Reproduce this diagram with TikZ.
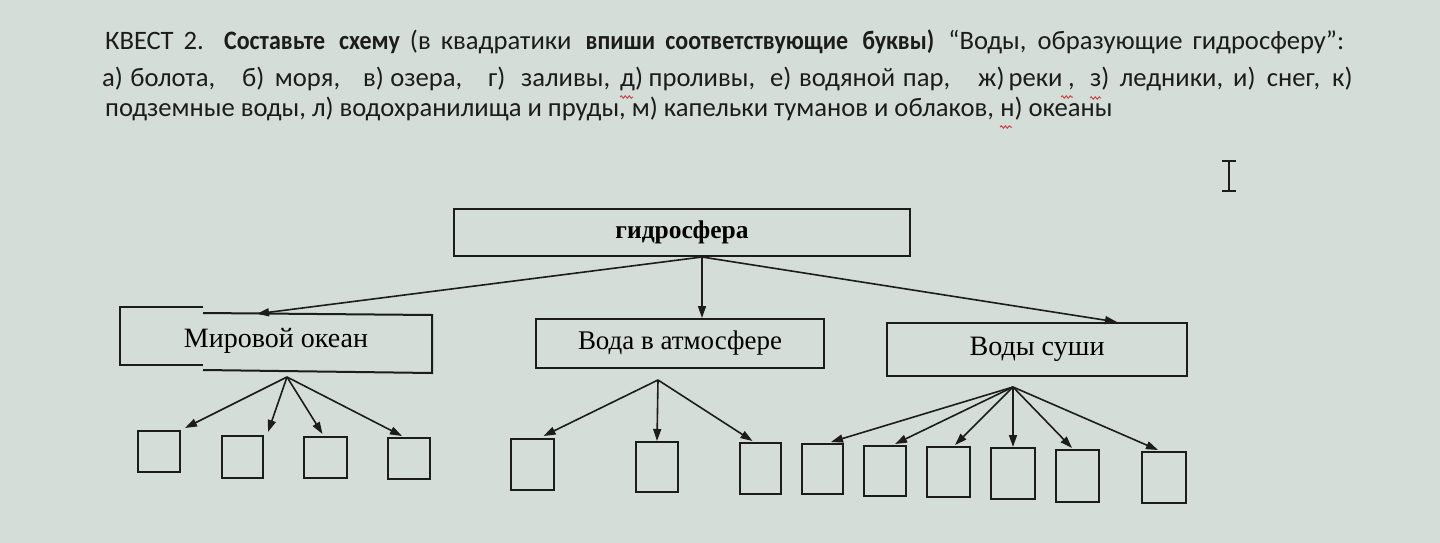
\documentclass[tikz,border=0pt]{standalone}
\usepackage{fontspec}
\usepackage{graphicx}
\setmainfont{Liberation Serif}
\newfontfamily\calib{Carlito}
\usetikzlibrary{arrows.meta,calc,decorations.pathmorphing}
\definecolor{bg}{HTML}{D5DDD8}
\definecolor{ink}{HTML}{1C1C1C}
\definecolor{squig}{HTML}{C44848}
\newlength\qlinew
\newcommand\qlinethree{подземные воды, л) водохранилища и пруды, м) капельки туманов и облаков, н) океаны}
\AtBeginDocument{%
  \settowidth\qlinew{\calib\fontsize{10pt}{12pt}\selectfont\qlinethree}%
  \pgfmathsetmacro\qfs{10*1007/\qlinew}%
  \global\let\qfs\qfs}
\newcommand\qfont{\calib\fontsize{\qfs pt}{\qfs pt}\selectfont}
\newcommand\qbold[1]{\scalebox{0.9}[1]{\bfseries #1}}
\newcommand\qitem[2]{\makebox[#1pt][s]{#2}}
\tikzset{
  frame/.style={draw=ink, line width=2pt, inner sep=0pt},
  leaf/.style={draw=ink, line width=2pt, inner sep=0pt},
  link/.style={draw=ink, line width=1.6pt, -{Triangle[length=12pt,width=8pt]}},
  qtext/.style={anchor=base west, inner sep=0pt, text=ink, font=\qfont},
  squiggle/.style={draw=squig, line width=1pt, decorate, decoration={snake, amplitude=1.2pt, segment length=4pt}}
}
\begin{document}
\begin{tikzpicture}[x=1pt,y=-1pt]
\fill[bg] (0,0) rectangle (1440,543);
\useasboundingbox (0,0) rectangle (1440,543);
% task text, line 1 (justified)
\node[qtext] (l1) at (105,50) {\makebox[1239pt][s]{КВЕСТ 2. \qbold{Составьте}\hspace{4pt} \qbold{схему} (в квадратики\hspace{4pt} \qbold{впиши} \qbold{соответствующие}\hspace{4pt} \qbold{буквы)}\hspace{4pt} “Воды, образующие гидросферу”:}};
% line 2 (justified, every space stretched)
\node[qtext] (a) at (102,86) {\qitem{113}{а) болота,}};
\node[qtext] (b) at (242,86) {\qitem{98}{б) моря,}};
\node[qtext] (c) at (363,86) {\qitem{99}{в) озера,}};
\node[qtext] (d) at (488,86) {\qitem{122}{г) заливы,}};
\node[qtext] (e) at (620,86) {\qitem{135}{д) проливы,}};
\node[qtext] (f) at (770,86) {\qitem{180}{е) водяной пар,}};
\node[qtext] (g) at (978,86) {\qitem{79}{ж) реки}};
\node[qtext] (g2) at (1068,86) {,};
\node[qtext] (h) at (1090,86) {\qitem{133}{з) ледники,}};
\node[qtext] (i) at (1233,86) {\qitem{87}{и) снег,}};
\node[qtext] (k) at (1332,86) {к)};
% line 3
\node[qtext] (l3) at (105,116) {подземные воды, л) водохранилища и пруды, м) капельки туманов и облаков,};
\node[qtext] (l3b) at (l3.base east) {\ н) океаны};
% spell-check marks
\draw[squiggle] ($(e.base west)+(0,11)$) -- +(13,0);
\draw[squiggle] ($(g2.base west)+(-7,11)$) -- +(12,0);
\draw[squiggle] ($(h.base west)+(0,12)$) -- +(11,0);
\draw[squiggle] ($(l3b.base west)+(6,11)$) -- +(12,0);
% cursor
\draw[ink, line width=2.4pt] (1222,161) -- (1236,161) (1229,161) -- (1229,191) (1222,191) -- (1236,191);
% main boxes
\node[frame, minimum width=456pt, minimum height=47pt] (hydro) at (682,232.5) {\resizebox{133pt}{!}{\bfseries гидросфера}};
\node[inner sep=0pt, minimum width=312pt, minimum height=66pt] (ocean) at (276,341) {\resizebox{184pt}{!}{Мировой океан}};
\draw[ink, line width=2pt] (203,313) -- (432,315) -- (432,373) -- (203,370);
\draw[ink, line width=2pt] (203,307) -- (120,307) -- (120,365) -- (203,365);
\node[frame, minimum width=288pt, minimum height=49pt] (atm) at (680,343.5) {\resizebox{204pt}{!}{Вода в атмосфере}};
\node[frame, minimum width=300pt, minimum height=53pt] (land) at (1037,349.5) {\resizebox{135pt}{!}{Воды суши}};
% leaves
\node[leaf, minimum width=42pt, minimum height=41pt] (b1) at (159,451.5) {};
\node[leaf, minimum width=41pt, minimum height=42pt] (b2) at (242.5,457) {};
\node[leaf, minimum width=43pt, minimum height=41pt] (b3) at (325.5,457.5) {};
\node[leaf, minimum width=42pt, minimum height=41pt] (b4) at (409,458.5) {};
\node[leaf, minimum width=43pt, minimum height=51pt] (b5) at (532.5,464.5) {};
\node[leaf, minimum width=42pt, minimum height=50pt] (b6) at (657,467) {};
\node[leaf, minimum width=41pt, minimum height=51pt] (b7) at (760.5,468.5) {};
\node[leaf, minimum width=41pt, minimum height=50pt] (b8) at (822.5,469) {};
\node[leaf, minimum width=42pt, minimum height=50pt] (b9) at (885,471) {};
\node[leaf, minimum width=43pt, minimum height=50pt] (b10) at (948.5,472) {};
\node[leaf, minimum width=44pt, minimum height=51pt] (b11) at (1013,473.5) {};
\node[leaf, minimum width=43pt, minimum height=52pt] (b12) at (1077.5,476) {};
\node[leaf, minimum width=44pt, minimum height=51pt] (b13) at (1164,477.5) {};
% branch points
\coordinate (hs) at (702,257);
\coordinate (os) at (287,377);
\coordinate (as) at (658,380);
\coordinate (ls) at (1013,387);
% connectors
\draw[link] (hs) -- ($(ocean.north)+(-19,6)$);
\draw[link] (hs) -- (hs |- atm.north);
\draw[link] (hs) -- ($(land.north)+(80,0)$);
\draw[link] (os) -- ($(b1.north east)+(4,-2)$);
\draw[link] (os) -- ($(b2.north east)+(4,-3)$);
\draw[link] (os) -- ($(b3.north)+(-3,-2)$);
\draw[link] (os) -- ($(b4.north)+(-7,-1)$);
\draw[link] (as) -- ($(b5.north)+(11,-2)$);
\draw[link] (as) -- (b6.north);
\draw[link] (as) -- ($(b7.north)+(-8,-1)$);
\draw[link] (ls) -- ($(b8.north)+(8.5,-1)$);
\draw[link] (ls) -- ($(b9.north)+(10,-1)$);
\draw[link] (ls) -- ($(b10.north)+(6.5,-1)$);
\draw[link] (ls) -- (b11.north);
\draw[link] (ls) -- ($(b12.north)+(-5.5,-1)$);
\draw[link] (ls) -- ($(b13.north)+(-6,-1)$);
\end{tikzpicture}
\end{document}
